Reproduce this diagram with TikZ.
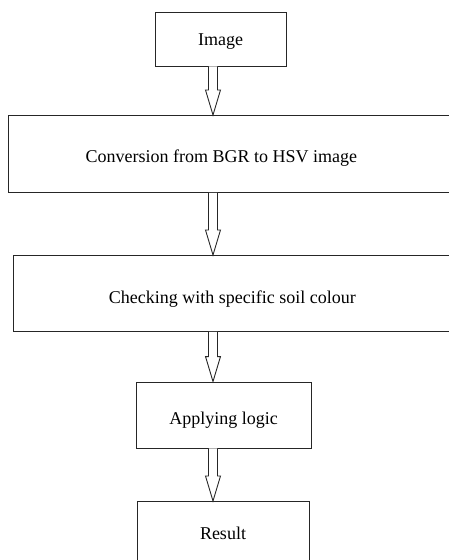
\documentclass[tikz,border=0pt]{standalone}
\usepackage{fontspec}
\setmainfont{Liberation Serif}
\usetikzlibrary{calc}
\tikzstyle{process} = [rectangle, draw=black!85, line width=0.9pt, text centered]
\tikzstyle{widebox} = [process, anchor=north west, minimum width=470pt]
\tikzstyle{hollow} = [draw=black!85, line width=0.9pt, fill=white, line join=miter]
\newcommand{\blockarrow}[2]{%
  \draw [hollow] ($(#1)+(-4.5,0)$) -- ($(#2)+(-4.5,-25)$) -- ($(#2)+(-7.5,-25)$) -- (#2)
    -- ($(#2)+(7.5,-25)$) -- ($(#2)+(4.5,-25)$) -- ($(#1)+(4.5,0)$);
}

\begin{document}
\begin{tikzpicture}[x=1pt, y=-1pt, font=\fontsize{18}{22}\selectfont]

    \path [use as bounding box] (0,0) rectangle (449,560);
    \clip (0,0) rectangle (449,560);
    \coordinate (axis) at (213,0);

    \node (img) [process, minimum width=131pt, minimum height=54pt, text height=16pt, text depth=4pt] at (220.5,39) {Image};
    \node (conv) [widebox, minimum height=77pt, label={[xshift=-22pt, yshift=-4pt]center:Conversion from BGR to HSV image}] at (8,115) {};
    \node (check) [widebox, minimum height=76pt, label={[xshift=-16pt, yshift=-5.5pt]center:Checking with specific soil colour}] at (13,255) {};
    \node (logic) [process, minimum width=175pt, minimum height=66pt, text height=23pt, text depth=4pt] at (223.5,415) {Applying logic};
    \node (res) [process, anchor=north, minimum width=172pt, minimum height=64pt] at (223,501) {Result};

    \blockarrow{img.south -| axis}{conv.north -| axis}
    \blockarrow{conv.south -| axis}{check.north -| axis}
    \blockarrow{check.south -| axis}{logic.north -| axis}
    \blockarrow{logic.south -| axis}{res.north -| axis}

\end{tikzpicture}
\end{document}
